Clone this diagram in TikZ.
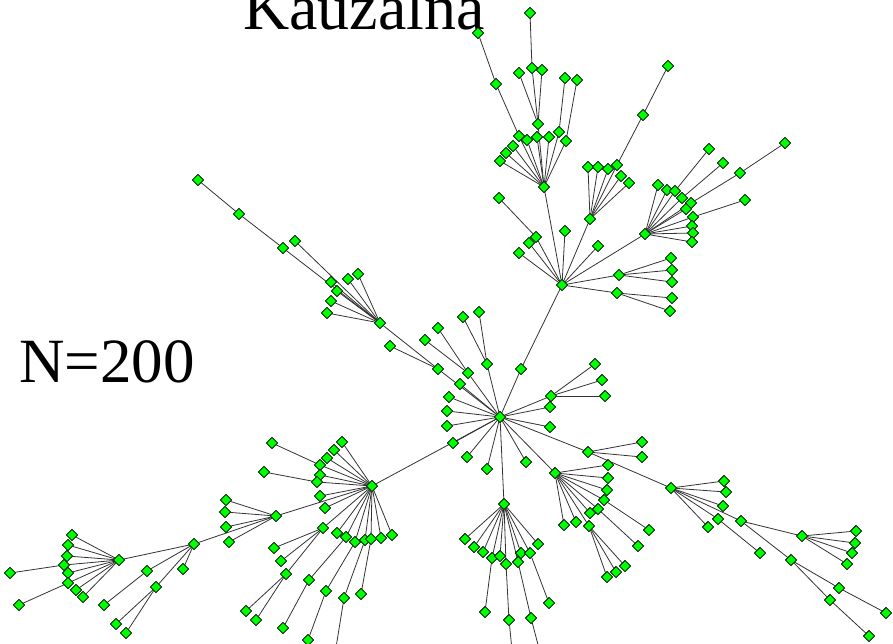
\documentclass[tikz,border=0pt]{standalone}
\usepackage{fontspec}
\setmainfont{Liberation Serif}
\usetikzlibrary{shapes.geometric,backgrounds}
\tikzset{
  vtx/.style={diamond,draw=black,fill=green,line width=0.8pt,minimum width=11.5pt,minimum height=11.5pt,inner sep=0pt},
  lnk/.style={draw=black!80,line width=0.8pt},
  lbl/.style={anchor=base west,inner sep=0pt,text=black}
}
\begin{document}
\begin{tikzpicture}[x=1pt,y=-1pt]
\useasboundingbox (0,0) rectangle (893,643);
\clip (0,0) rectangle (893,643);

% labels:
\path (243,29) node[lbl,font=\fontsize{64}{64}\selectfont] (ttl) {Kauzalna};
\path (19,382) node[lbl,font=\fontsize{63}{63}\selectfont] (cnt) {N=200};

% hubs:
\path (500,417) node[vtx] (c) {};
\path (562,285) node[vtx] (u) {};
\path (372,486) node[vtx] (l) {};
\path (504,504) node[vtx] (b) {};
\path (555,473) node[vtx] (r1) {};
\path (588,452) node[vtx] (p) {};
\path (671,488) node[vtx] (r2) {};
\path (802,536) node[vtx] (r3) {};
\path (544,187) node[vtx] (t1) {};
\path (590,219) node[vtx] (t2) {};
\path (645,234) node[vtx] (t3) {};
\path (619,275) node[vtx] (s1) {};
\path (617,293) node[vtx] (s2) {};
\path (380,323) node[vtx] (w2) {};
\path (276,516) node[vtx] (w3) {};
\path (194,544) node[vtx] (w4) {};
\path (119,560) node[vtx] (w5) {};

% top fan:
\path (530,13) node[vtx] (a1) {};
\path (478,33) node[vtx] (a2) {};
\path (496,84) node[vtx] (a3) {};
\path (532,68) node[vtx] (a4) {};
\path (542,70) node[vtx] (a5) {};
\path (519,73) node[vtx] (a6) {};
\path (565,78) node[vtx] (a7) {};
\path (577,80) node[vtx] (a8) {};
\path (538,124) node[vtx] (a9) {};
\path (519,136) node[vtx] (a10) {};
\path (527,140) node[vtx] (a11) {};
\path (537,137) node[vtx] (a12) {};
\path (549,137) node[vtx] (a13) {};
\path (559,132) node[vtx] (a14) {};
\path (566,141) node[vtx] (a15) {};
\path (513,146) node[vtx] (a16) {};
\path (506,153) node[vtx] (a17) {};
\path (500,161) node[vtx] (a18) {};
\path (588,167) node[vtx] (b1) {};
\path (598,167) node[vtx] (b2) {};
\path (608,169) node[vtx] (b3) {};
\path (617,165) node[vtx] (b4) {};
\path (621,176) node[vtx] (b5) {};
\path (629,183) node[vtx] (b6) {};
\path (643,115) node[vtx] (b7) {};
\path (668,66) node[vtx] (b8) {};
\path (658,185) node[vtx] (d1) {};
\path (667,190) node[vtx] (d2) {};
\path (675,191) node[vtx] (d3) {};
\path (682,198) node[vtx] (d4) {};
\path (691,203) node[vtx] (d5) {};
\path (686,209) node[vtx] (d6) {};
\path (693,217) node[vtx] (d7) {};
\path (692,226) node[vtx] (d8) {};
\path (693,233) node[vtx] (d9) {};
\path (692,242) node[vtx] (d10) {};
\path (709,149) node[vtx] (d11) {};
\path (723,163) node[vtx] (d12) {};
\path (740,173) node[vtx] (d13) {};
\path (785,143) node[vtx] (d14) {};
\path (745,200) node[vtx] (d15) {};
\path (536,237) node[vtx] (e1) {};
\path (499,198) node[vtx] (e2) {};
\path (529,243) node[vtx] (e3) {};
\path (519,253) node[vtx] (e4) {};
\path (565,231) node[vtx] (e5) {};
\path (598,246) node[vtx] (e6) {};
\path (521,369) node[vtx] (e7) {};
\path (671,258) node[vtx] (f1) {};
\path (672,270) node[vtx] (f2) {};
\path (672,282) node[vtx] (f3) {};
\path (672,298) node[vtx] (f4) {};
\path (670,311) node[vtx] (f5) {};

% upper left branch:
\path (198,180) node[vtx] (g1) {};
\path (239,214) node[vtx] (g2) {};
\path (283,248) node[vtx] (g3) {};
\path (295,241) node[vtx] (g4) {};
\path (331,282) node[vtx] (g5) {};
\path (337,291) node[vtx] (g6) {};
\path (331,301) node[vtx] (g7) {};
\path (327,313) node[vtx] (g8) {};
\path (348,279) node[vtx] (g9) {};
\path (358,274) node[vtx] (g10) {};

% around the centre:
\path (438,369) node[vtx] (h1) {};
\path (390,346) node[vtx] (h2) {};
\path (425,340) node[vtx] (h3) {};
\path (438,328) node[vtx] (h4) {};
\path (468,373) node[vtx] (h5) {};
\path (487,364) node[vtx] (h6) {};
\path (460,384) node[vtx] (h7) {};
\path (449,397) node[vtx] (h8) {};
\path (447,411) node[vtx] (h9) {};
\path (447,426) node[vtx] (h10) {};
\path (453,443) node[vtx] (h11) {};
\path (467,457) node[vtx] (h12) {};
\path (487,469) node[vtx] (h13) {};
\path (526,462) node[vtx] (h14) {};
\path (463,317) node[vtx] (h15) {};
\path (479,312) node[vtx] (h16) {};
\path (551,396) node[vtx] (q1) {};
\path (550,407) node[vtx] (q2) {};
\path (550,427) node[vtx] (q3) {};
\path (595,364) node[vtx] (q4) {};
\path (602,380) node[vtx] (q5) {};
\path (605,396) node[vtx] (q6) {};
\path (642,442) node[vtx] (p1) {};
\path (642,457) node[vtx] (p2) {};

% bottom fan:
\path (465,539) node[vtx] (i1) {};
\path (474,547) node[vtx] (i2) {};
\path (483,552) node[vtx] (i3) {};
\path (492,558) node[vtx] (i4) {};
\path (500,556) node[vtx] (i5) {};
\path (506,564) node[vtx] (i6) {};
\path (518,562) node[vtx] (i7) {};
\path (521,553) node[vtx] (i8) {};
\path (530,553) node[vtx] (i9) {};
\path (538,544) node[vtx] (i10) {};
\path (485,612) node[vtx] (i11) {};
\path (509,620) node[vtx] (i12) {};
\path (531,618) node[vtx] (i13) {};
\path (549,603) node[vtx] (i14) {};
\coordinate (o1) at (513,660);
\coordinate (o2) at (542,660);

% lower right fans:
\path (608,465) node[vtx] (j1) {};
\path (608,478) node[vtx] (j2) {};
\path (607,490) node[vtx] (j3) {};
\path (604,500) node[vtx] (j4) {};
\path (598,509) node[vtx] (j5) {};
\path (590,513) node[vtx] (j6) {};
\path (589,526) node[vtx] (j7) {};
\path (576,522) node[vtx] (j8) {};
\path (564,525) node[vtx] (j9) {};
\path (649,530) node[vtx] (j10) {};
\path (638,546) node[vtx] (j11) {};
\path (625,566) node[vtx] (j12) {};
\path (616,572) node[vtx] (j13) {};
\path (607,577) node[vtx] (j14) {};
\path (724,481) node[vtx] (k1) {};
\path (726,492) node[vtx] (k2) {};
\path (723,506) node[vtx] (k3) {};
\path (718,519) node[vtx] (k4) {};
\path (708,527) node[vtx] (k5) {};
\path (741,521) node[vtx] (k6) {};
\path (760,553) node[vtx] (k7) {};
\path (791,560) node[vtx] (k8) {};
\path (856,531) node[vtx] (k9) {};
\path (855,543) node[vtx] (k10) {};
\path (852,553) node[vtx] (k11) {};
\path (847,564) node[vtx] (k12) {};
\path (839,588) node[vtx] (k13) {};
\path (830,600) node[vtx] (k14) {};
\path (886,613) node[vtx] (k15) {};
\path (869,636) node[vtx] (k16) {};

% lower left fans:
\path (342,442) node[vtx] (m1) {};
\path (334,450) node[vtx] (m2) {};
\path (327,458) node[vtx] (m3) {};
\path (320,465) node[vtx] (m4) {};
\path (320,475) node[vtx] (m5) {};
\path (317,482) node[vtx] (m6) {};
\path (320,496) node[vtx] (m7) {};
\path (325,508) node[vtx] (m8) {};
\path (323,528) node[vtx] (m9) {};
\path (337,533) node[vtx] (m10) {};
\path (346,537) node[vtx] (m11) {};
\path (355,542) node[vtx] (m12) {};
\path (365,540) node[vtx] (m13) {};
\path (371,539) node[vtx] (m14) {};
\path (381,538) node[vtx] (m15) {};
\path (392,535) node[vtx] (m16) {};
\path (272,443) node[vtx] (m17) {};
\path (264,472) node[vtx] (m18) {};
\path (274,548) node[vtx] (m19) {};
\path (281,561) node[vtx] (m20) {};
\path (286,574) node[vtx] (m21) {};
\path (246,611) node[vtx] (m22) {};
\path (256,620) node[vtx] (m23) {};
\path (309,580) node[vtx] (m24) {};
\path (283,628) node[vtx] (m25) {};
\path (326,591) node[vtx] (m26) {};
\path (308,640) node[vtx] (m27) {};
\path (344,598) node[vtx] (m28) {};
\path (361,594) node[vtx] (m29) {};
\coordinate (o3) at (334,660);
\path (226,500) node[vtx] (n1) {};
\path (225,512) node[vtx] (n2) {};
\path (226,527) node[vtx] (n3) {};
\path (229,542) node[vtx] (n4) {};
\path (147,571) node[vtx] (n5) {};
\path (183,569) node[vtx] (n6) {};
\path (156,587) node[vtx] (n7) {};
\path (104,605) node[vtx] (n8) {};
\path (116,624) node[vtx] (n9) {};
\path (126,633) node[vtx] (n10) {};
\path (72,535) node[vtx] (n11) {};
\path (68,545) node[vtx] (n12) {};
\path (67,556) node[vtx] (n13) {};
\path (64,565) node[vtx] (n14) {};
\path (68,573) node[vtx] (n15) {};
\path (68,583) node[vtx] (n16) {};
\path (76,590) node[vtx] (n17) {};
\path (83,597) node[vtx] (n18) {};
\path (10,573) node[vtx] (n19) {};
\path (19,605) node[vtx] (n20) {};

% edges:
\begin{scope}[on background layer]
\draw[lnk] (c) -- (e7);
\draw[lnk] (e7) -- (u);
\draw[lnk] (c) -- (h1);
\draw[lnk] (c) -- (h5);
\draw[lnk] (c) -- (h6);
\draw[lnk] (c) -- (h7);
\draw[lnk] (c) -- (h8);
\draw[lnk] (c) -- (h9);
\draw[lnk] (c) -- (h10);
\draw[lnk] (c) -- (h11);
\draw[lnk] (c) -- (h12);
\draw[lnk] (c) -- (h13);
\draw[lnk] (c) -- (h14);
\draw[lnk] (c) -- (q1);
\draw[lnk] (c) -- (q2);
\draw[lnk] (c) -- (q3);
\draw[lnk] (c) -- (p);
\draw[lnk] (c) -- (b);
\draw[lnk] (c) -- (l);
\draw[lnk] (c) -- (r1);
\draw[lnk] (h1) -- (h2);
\draw[lnk] (h1) -- (w2);
\draw[lnk] (h5) -- (h3);
\draw[lnk] (h5) -- (h4);
\draw[lnk] (h6) -- (h15);
\draw[lnk] (h6) -- (h16);
\draw[lnk] (q1) -- (q4);
\draw[lnk] (q1) -- (q5);
\draw[lnk] (q1) -- (q6);
\draw[lnk] (p) -- (p1);
\draw[lnk] (p) -- (p2);
\draw[lnk] (p) -- (r2);
\draw[lnk] (u) -- (t1);
\draw[lnk] (u) -- (t2);
\draw[lnk] (u) -- (t3);
\draw[lnk] (u) -- (e1);
\draw[lnk] (u) -- (e3);
\draw[lnk] (u) -- (e4);
\draw[lnk] (u) -- (e5);
\draw[lnk] (u) -- (e6);
\draw[lnk] (u) -- (s1);
\draw[lnk] (u) -- (s2);
\draw[lnk] (e1) -- (e2);
\draw[lnk] (s1) -- (f1);
\draw[lnk] (s1) -- (f2);
\draw[lnk] (s1) -- (f3);
\draw[lnk] (s2) -- (f4);
\draw[lnk] (s2) -- (f5);
\draw[lnk] (t1) -- (a9);
\draw[lnk] (t1) -- (a10);
\draw[lnk] (t1) -- (a11);
\draw[lnk] (t1) -- (a12);
\draw[lnk] (t1) -- (a13);
\draw[lnk] (t1) -- (a14);
\draw[lnk] (t1) -- (a15);
\draw[lnk] (t1) -- (a16);
\draw[lnk] (t1) -- (a17);
\draw[lnk] (t1) -- (a18);
\draw[lnk] (a9) -- (a4);
\draw[lnk] (a9) -- (a5);
\draw[lnk] (a9) -- (a6);
\draw[lnk] (a4) -- (a1);
\draw[lnk] (a10) -- (a3);
\draw[lnk] (a3) -- (a2);
\draw[lnk] (a14) -- (a7);
\draw[lnk] (a15) -- (a8);
\draw[lnk] (t2) -- (b1);
\draw[lnk] (t2) -- (b2);
\draw[lnk] (t2) -- (b3);
\draw[lnk] (t2) -- (b4);
\draw[lnk] (t2) -- (b5);
\draw[lnk] (t2) -- (b6);
\draw[lnk] (b4) -- (b7);
\draw[lnk] (b7) -- (b8);
\draw[lnk] (t3) -- (d1);
\draw[lnk] (t3) -- (d2);
\draw[lnk] (t3) -- (d3);
\draw[lnk] (t3) -- (d4);
\draw[lnk] (t3) -- (d5);
\draw[lnk] (t3) -- (d6);
\draw[lnk] (t3) -- (d7);
\draw[lnk] (t3) -- (d8);
\draw[lnk] (t3) -- (d9);
\draw[lnk] (t3) -- (d10);
\draw[lnk] (d3) -- (d11);
\draw[lnk] (d4) -- (d12);
\draw[lnk] (d5) -- (d13);
\draw[lnk] (d13) -- (d14);
\draw[lnk] (d7) -- (d15);
\draw[lnk] (w2) -- (g3);
\draw[lnk] (w2) -- (g4);
\draw[lnk] (w2) -- (g5);
\draw[lnk] (w2) -- (g6);
\draw[lnk] (w2) -- (g7);
\draw[lnk] (w2) -- (g8);
\draw[lnk] (w2) -- (g9);
\draw[lnk] (w2) -- (g10);
\draw[lnk] (g3) -- (g2);
\draw[lnk] (g2) -- (g1);
\draw[lnk] (b) -- (i1);
\draw[lnk] (b) -- (i2);
\draw[lnk] (b) -- (i3);
\draw[lnk] (b) -- (i4);
\draw[lnk] (b) -- (i5);
\draw[lnk] (b) -- (i6);
\draw[lnk] (b) -- (i7);
\draw[lnk] (b) -- (i8);
\draw[lnk] (b) -- (i9);
\draw[lnk] (b) -- (i10);
\draw[lnk] (i4) -- (i11);
\draw[lnk] (i6) -- (i12);
\draw[lnk] (i7) -- (i13);
\draw[lnk] (i9) -- (i14);
\draw[lnk] (i12) -- (o1);
\draw[lnk] (i13) -- (o2);
\draw[lnk] (r1) -- (j1);
\draw[lnk] (r1) -- (j2);
\draw[lnk] (r1) -- (j3);
\draw[lnk] (r1) -- (j4);
\draw[lnk] (r1) -- (j5);
\draw[lnk] (r1) -- (j6);
\draw[lnk] (r1) -- (j7);
\draw[lnk] (r1) -- (j8);
\draw[lnk] (r1) -- (j9);
\draw[lnk] (j4) -- (j10);
\draw[lnk] (j5) -- (j11);
\draw[lnk] (j7) -- (j12);
\draw[lnk] (j7) -- (j13);
\draw[lnk] (j7) -- (j14);
\draw[lnk] (r2) -- (k1);
\draw[lnk] (r2) -- (k2);
\draw[lnk] (r2) -- (k3);
\draw[lnk] (r2) -- (k4);
\draw[lnk] (r2) -- (k5);
\draw[lnk] (r2) -- (k6);
\draw[lnk] (k4) -- (k7);
\draw[lnk] (k6) -- (r3);
\draw[lnk] (k6) -- (k8);
\draw[lnk] (r3) -- (k9);
\draw[lnk] (r3) -- (k10);
\draw[lnk] (r3) -- (k11);
\draw[lnk] (r3) -- (k12);
\draw[lnk] (k8) -- (k13);
\draw[lnk] (k8) -- (k14);
\draw[lnk] (k13) -- (k15);
\draw[lnk] (k14) -- (k16);
\draw[lnk] (l) -- (m1);
\draw[lnk] (l) -- (m2);
\draw[lnk] (l) -- (m3);
\draw[lnk] (l) -- (m4);
\draw[lnk] (l) -- (m5);
\draw[lnk] (l) -- (m6);
\draw[lnk] (l) -- (m7);
\draw[lnk] (l) -- (m8);
\draw[lnk] (l) -- (m9);
\draw[lnk] (l) -- (m10);
\draw[lnk] (l) -- (m11);
\draw[lnk] (l) -- (m12);
\draw[lnk] (l) -- (m13);
\draw[lnk] (l) -- (m14);
\draw[lnk] (l) -- (m15);
\draw[lnk] (l) -- (m16);
\draw[lnk] (l) -- (w3);
\draw[lnk] (m4) -- (m17);
\draw[lnk] (m6) -- (m18);
\draw[lnk] (m9) -- (m19);
\draw[lnk] (m9) -- (m20);
\draw[lnk] (m9) -- (m21);
\draw[lnk] (m21) -- (m22);
\draw[lnk] (m21) -- (m23);
\draw[lnk] (m11) -- (m24);
\draw[lnk] (m24) -- (m25);
\draw[lnk] (m12) -- (m26);
\draw[lnk] (m26) -- (m27);
\draw[lnk] (m13) -- (m28);
\draw[lnk] (m28) -- (o3);
\draw[lnk] (m14) -- (m29);
\draw[lnk] (w3) -- (n1);
\draw[lnk] (w3) -- (n2);
\draw[lnk] (w3) -- (n3);
\draw[lnk] (w3) -- (n4);
\draw[lnk] (w3) -- (w4);
\draw[lnk] (w4) -- (n5);
\draw[lnk] (w4) -- (n6);
\draw[lnk] (w4) -- (n7);
\draw[lnk] (w4) -- (w5);
\draw[lnk] (n5) -- (n8);
\draw[lnk] (n7) -- (n9);
\draw[lnk] (n7) -- (n10);
\draw[lnk] (w5) -- (n11);
\draw[lnk] (w5) -- (n12);
\draw[lnk] (w5) -- (n13);
\draw[lnk] (w5) -- (n14);
\draw[lnk] (w5) -- (n15);
\draw[lnk] (w5) -- (n16);
\draw[lnk] (w5) -- (n17);
\draw[lnk] (w5) -- (n18);
\draw[lnk] (n14) -- (n19);
\draw[lnk] (n16) -- (n20);
\end{scope}

\end{tikzpicture}
\end{document}
